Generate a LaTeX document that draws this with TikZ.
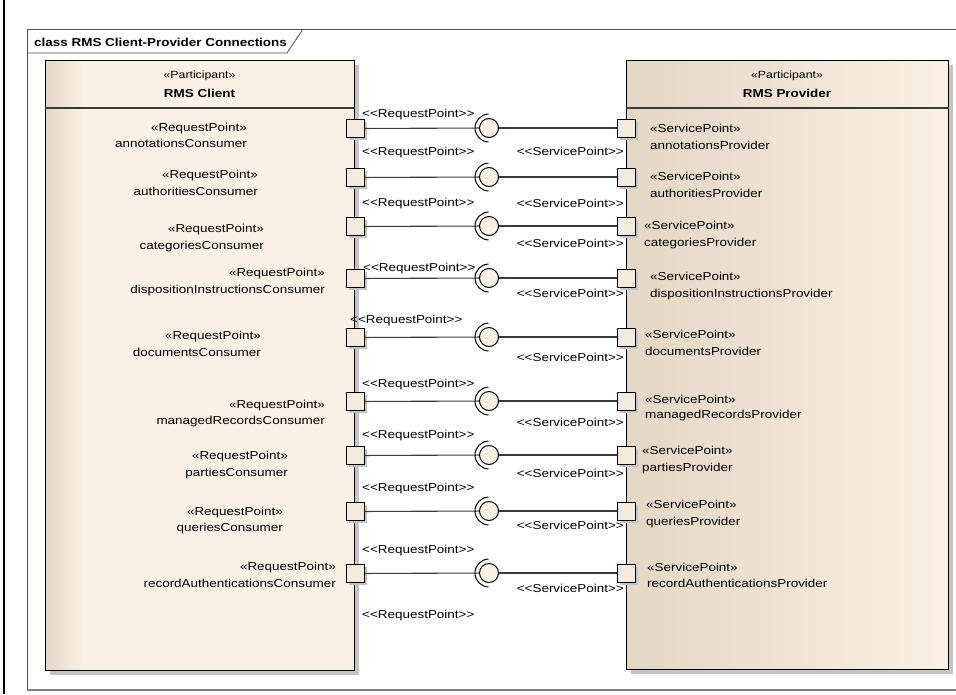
\documentclass[tikz,border=0pt]{standalone}
\usepackage{fontspec}
\setmainfont{Liberation Sans}[FakeStretch=1.17]
\usetikzlibrary{shadows}
\definecolor{lt}{HTML}{FAF0E3}
\definecolor{dk}{HTML}{E3D7C5}
\definecolor{shgray}{HTML}{C4C4C4}
\definecolor{portfill}{HTML}{F5EBDC}
\definecolor{connc}{HTML}{3A3A3A}
\pgfdeclarehorizontalshading{clientshade}{100bp}{color(0bp)=(dk); color(25bp)=(dk); color(31bp)=(lt); color(100bp)=(lt)}
\newcommand\dlt{<\kern0pt<}
\newcommand\dgt{>\kern0pt>}
\begin{document}
\begin{tikzpicture}[x=1pt,y=-1pt,
  lbl/.style={inner sep=0pt, font=\fontsize{11.5}{14}\selectfont},
  sml/.style={inner sep=0pt, font=\fontsize{10.5}{13}\selectfont},
  hdr/.style={inner sep=0pt, font=\fontsize{11.5}{14}\selectfont\bfseries},
  box/.style={draw=black, line width=1.2pt, inner sep=0pt, anchor=north west,
    drop shadow={shadow xshift=4pt, shadow yshift=-4pt, fill=shgray, opacity=1}},
  port/.style={draw=black, line width=1pt, fill=portfill, minimum size=18pt, inner sep=0pt,
    drop shadow={shadow xshift=2.5pt, shadow yshift=-2.5pt, fill=shgray, opacity=1}},
  ball/.style={circle, draw=black, line width=1pt, fill=lt, minimum size=19pt, inner sep=0pt},
  conn/.style={draw=connc, line width=1.1pt}]
\useasboundingbox (0,0) rectangle (956,694);
\fill[white] (0,0) rectangle (956,694);
% page line and frame
\draw[line width=2pt] (4,0) -- (4,694);
\draw[draw=black!70, line width=0.8pt] (27,690) -- (27,29) -- (960,29);
\draw[draw=black!50, line width=2pt] (27,690) -- (960,690);
\node[hdr, anchor=base west] (title) at (34,46.5) {class RMS Client-Provider Connections};
\draw[draw=black!70, line width=0.8pt] (27,53) -- (287,53) -- (303,29);
% participants
\node[box, shade, shading=clientshade, minimum width=309pt, minimum height=610pt] (client) at (45,60) {};
\node[box, left color=dk, right color=lt, minimum width=322pt, minimum height=609pt] (prov) at (626,60) {};
\draw[draw=connc, line width=1.2pt] ([yshift=-48pt]client.north west) -- ([yshift=-48pt]client.north east);
\draw[draw=connc, line width=1.2pt] ([yshift=-48pt]prov.north west) -- ([yshift=-48pt]prov.north east);
\node[sml, anchor=base] (cst) at (199.5,78.5) {«Participant»};
\node[hdr, anchor=base] (cnm) at (199.5,97) {RMS Client};
\node[sml, anchor=base] (pst) at (787,78.5) {«Participant»};
\node[hdr, anchor=base] (pnm) at (787,97.5) {RMS Provider};
% left port labels
\foreach \i/\x/\ys/\yn/\nm in {1/247/127/143/annotationsConsumer,
  2/258/174/191/authoritiesConsumer, 3/264/228/245/categoriesConsumer,
  4/325/272/289/dispositionInstructionsConsumer, 5/261/335/352/documentsConsumer,
  6/325/404/420/managedRecordsConsumer, 7/288/455/472/partiesConsumer,
  8/283/511/527/queriesConsumer, 9/336/566/583/recordAuthenticationsConsumer}{
  \node[lbl, anchor=base east] (ls\i) at (\x,\ys+4.5) {«RequestPoint»};
  \node[lbl, anchor=base east] (ln\i) at (\x,\yn+4.5) {\nm};
}
% right port labels
\foreach \i/\x/\ys/\yn/\nm in {1/650/128/145/annotationsProvider,
  2/650/176/193/authoritiesProvider, 3/644/225/242/categoriesProvider,
  4/650/276/293/dispositionInstructionsProvider, 5/645/334/351/documentsProvider,
  6/645/399/414/managedRecordsProvider, 7/642/450/467/partiesProvider,
  8/646/504/521/queriesProvider, 9/647/567/583/recordAuthenticationsProvider}{
  \node[lbl, anchor=base west] (rs\i) at (\x,\ys+4.5) {«ServicePoint»};
  \node[lbl, anchor=base west] (rn\i) at (\x,\yn+4.5) {\nm};
}
% connectors
\foreach \i/\y in {1/128,2/177,3/226,4/278,5/337,6/401,7/455,8/511,9/573}{
  \node[port] (lp\i) at (355,\y+0.5) {};
  \node[port] (rp\i) at (626,\y) {};
  \node[ball] (b\i) at (489,\y) {};
  \draw[conn] (lp\i) -- (b\i);
  \draw[conn] (b\i) -- (rp\i);
  \draw[draw=black, line width=1pt] ([shift={(92:14pt)}]b\i.center) arc[start angle=92, end angle=268, radius=14pt];
}
% connector labels
\foreach \i/\x/\y in {1/362/113,2/362/151,3/362/202,4/363/267,5/350/319,
  6/362/383,7/362/434,8/362/487,9/362/549,10/362/614}{
  \node[lbl, anchor=base west] (rq\i) at (\x,\y+4.5) {\dlt RequestPoint\dgt};
}
\foreach \i/\y in {1/151,2/203,3/243,4/293,5/357,6/422,7/473,8/525,9/588}{
  \node[lbl, anchor=base east] (sv\i) at (624,\y+4.5) {\dlt ServicePoint\dgt};
}
\end{tikzpicture}
\end{document}
